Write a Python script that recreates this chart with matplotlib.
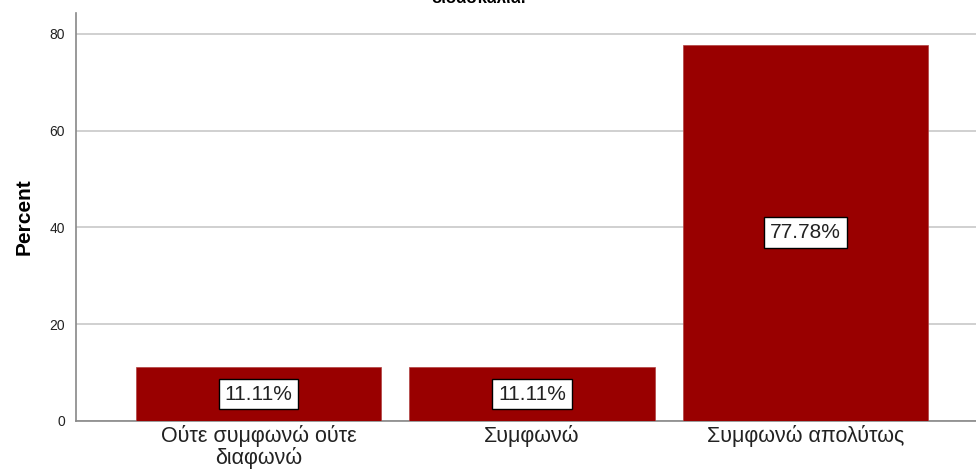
import matplotlib.pyplot as plt

# Données
categories = ['Ούτε συμφωνώ ούτε\nδιαφωνώ', 'Συμφωνώ', 'Συμφωνώ απολύτως']
percents = [11.11, 11.11, 77.78]
yticks = [0, 20, 40, 60, 80]

BAR_COLOR = '#990000'
AXIS_COLOR = '#888888'
GRID_COLOR = '#c8c8c8'

plt.rcParams['font.family'] = ['Liberation Sans', 'DejaVu Sans']

fig = plt.figure(figsize=(9.76, 4.72), dpi=100)
ax = fig.add_axes([76 / 976, 1 - 421 / 472, 900 / 976, 408 / 472])

x = list(range(len(categories)))
ax.bar(x, percents, width=0.896, color=BAR_COLOR, edgecolor='#b04040',
       linewidth=0.5, zorder=3)

# Étiquettes de valeurs au milieu des barres
for xi, p in zip(x, percents):
    ax.text(xi, p / 2, f'{p:.2f}%', ha='center', va='center', fontsize=15,
            color='#222222', zorder=4,
            bbox=dict(boxstyle='square,pad=0.28', facecolor='white',
                      edgecolor='black', linewidth=1.0))

ax.set_xlim(-0.667, 2.623)
ax.set_ylim(0, 84.3)
ax.set_yticks(yticks)
ax.set_xticks(x)
ax.set_xticklabels(categories, fontsize=15.5, color='#222222', linespacing=1.0)
ax.tick_params(axis='x', length=0, pad=3)
ax.tick_params(axis='y', length=0, labelsize=10, labelcolor='#222222', pad=8)

ax.yaxis.grid(True, color=GRID_COLOR, linewidth=1.2, zorder=0)
ax.set_axisbelow(True)
for side in ['top', 'right']:
    ax.spines[side].set_visible(False)
for side in ['left', 'bottom']:
    ax.spines[side].set_color(AXIS_COLOR)
    ax.spines[side].set_linewidth(1.2)

ax.set_ylabel('Percent', fontsize=15, fontweight='bold', labelpad=11)

# Titre (coupé en haut de la figure)
fig.text(0.49, 1 - 3 / 472, 'διδασκαλία.', ha='center', va='baseline',
         fontsize=12, fontweight='bold')

fig.savefig('out.png', dpi=100)
